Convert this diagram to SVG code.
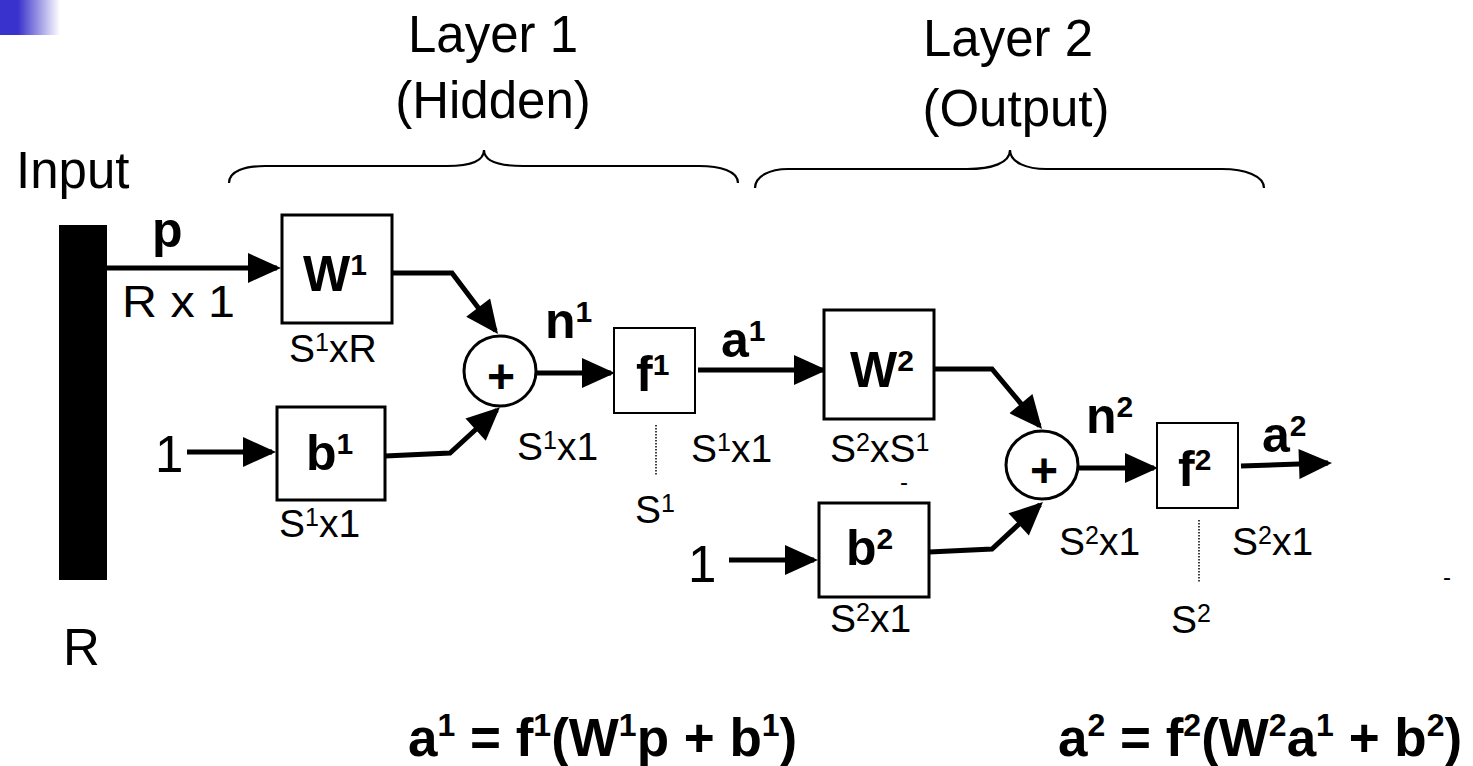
<svg xmlns="http://www.w3.org/2000/svg" width="1473" height="766" viewBox="0 0 1473 766">
<style>
text{font-family:"Liberation Sans",Arial,sans-serif;fill:#000}
.big{font-size:51px}
.lab{font-size:39px}
.lab .s{font-size:25px}
.b{font-weight:bold;font-size:50px}
.b .s{font-size:30px}
.eq{font-weight:bold;font-size:53px}
.eq .s{font-size:32px}
.box{fill:#fff;stroke:#000;stroke-width:3}
.fbox{fill:#fff;stroke:#000;stroke-width:2}
.sum{fill:#fff;stroke:#000;stroke-width:3}
.con path{fill:none;stroke:#000;stroke-width:5;stroke-linejoin:miter;marker-end:url(#ah)}
.brace{fill:none;stroke:#000;stroke-width:2.2}
.dot{stroke:#000;stroke-width:1.5;stroke-dasharray:1.5 1.5}
</style>
<defs>
<linearGradient id="g" x1="0" y1="0" x2="1" y2="0">
<stop offset="0" stop-color="#3a32cc"/>
<stop offset="0.3" stop-color="#3a32cc"/>
<stop offset="1" stop-color="#fff"/>
</linearGradient>
<marker id="ah" markerUnits="userSpaceOnUse" markerWidth="34" markerHeight="30" viewBox="0 0 33 30" refX="29" refY="15" orient="auto">
<path d="M0,0 L33,15 L0,30 z" fill="#000"/>
</marker>
</defs>
<rect x="0" y="0" width="60" height="35" fill="url(#g)"/>

<g id="titles">
<text class="big" x="493" y="52" text-anchor="middle">Layer 1</text>
<text class="big" x="493" y="118" text-anchor="middle">(Hidden)</text>
<text class="big" x="1008" y="56" text-anchor="middle">Layer 2</text>
<text class="big" x="1016" y="126" text-anchor="middle">(Output)</text>
<path class="brace" d="M229,183 C229,171 245,166 265,166 L447,166 C470,166 484,161 484,150 C484,161 498,166 523,166 L699,166 C720,166 738,171 738,183"/>
<path class="brace" d="M755,188 C755,176 770,169 788,169 L967,169 C992,169 1010,163 1010,150 C1010,163 1028,169 1046,169 L1222,169 C1245,169 1264,176 1264,188"/>
</g>

<g id="input">
<text class="big" x="16" y="188">Input</text>
<rect x="59" y="225" width="48" height="355" fill="#000"/>
<text class="big" x="63" y="665">R</text>
</g>

<g id="connectors" class="con">
<path d="M107,268 H277"/>
<path d="M392,273 H452 L495.6,330.8"/>
<path d="M385,456 L450,453 L497,410"/>
<path d="M187,452 H272"/>
<path d="M536,373 H611"/>
<path d="M698,370 H823"/>
<path d="M934,369 L992,369 L1039.5,425.9"/>
<path d="M729,560 H814"/>
<path d="M929,552 L992,549 L1040,504.7"/>
<path d="M1079,468 H1154"/>
<path d="M1241,466 L1328,463.1"/>
</g>

<g id="labels-p">
<text class="b" x="152" y="247">p</text>
<text transform="translate(122,317) scale(1.1,1)" x="0" y="0" style="font-size:44px">R x 1</text>
</g>

<g id="W1">
<rect class="box" x="282" y="215" width="110" height="108"/>
<text class="b" x="303" y="291">W<tspan class="s" dy="-16">1</tspan></text>
<text class="lab" x="289" y="362">S<tspan class="s" dy="-11">1</tspan><tspan dy="11">xR</tspan></text>
</g>

<g id="b1">
<rect class="box" x="277" y="407" width="108" height="93"/>
<text class="b" x="306" y="470">b<tspan class="s" dy="-16">1</tspan></text>
<text class="lab" x="279" y="537">S<tspan class="s" dy="-11">1</tspan><tspan dy="11">x1</tspan></text>
<text class="big" x="155" y="472">1</text>
</g>

<g id="sum1">
<ellipse class="sum" cx="500" cy="371" rx="36" ry="35"/>
<text class="b" x="501" y="393" text-anchor="middle" style="font-size:48px">+</text>
<text class="b" x="545" y="338">n<tspan class="s" dy="-16">1</tspan></text>
<text class="lab" x="517" y="460">S<tspan class="s" dy="-11">1</tspan><tspan dy="11">x1</tspan></text>
</g>

<g id="f1">
<rect class="fbox" x="614" y="328" width="81" height="85"/>
<text class="b" x="636" y="391">f<tspan class="s" dy="-16">1</tspan></text>
<line class="dot" x1="656" y1="425" x2="656" y2="476"/>
<text class="lab" x="635" y="523">S<tspan class="s" dy="-11">1</tspan></text>
<text class="b" x="721" y="357">a<tspan class="s" dy="-16">1</tspan></text>
<text class="lab" x="691" y="462">S<tspan class="s" dy="-11">1</tspan><tspan dy="11">x1</tspan></text>
</g>

<g id="W2">
<rect class="box" x="824" y="310" width="110" height="109"/>
<text class="b" x="850" y="387">W<tspan class="s" dy="-16">2</tspan></text>
<text class="lab" x="830" y="462">S<tspan class="s" dy="-11">2</tspan><tspan dy="11">xS</tspan><tspan class="s" dy="-11">1</tspan></text>
<text x="900" y="490" style="font-size:24px">-</text>
</g>

<g id="b2">
<rect class="box" x="819" y="503" width="110" height="94"/>
<text class="b" x="846" y="565">b<tspan class="s" dy="-16">2</tspan></text>
<text class="lab" x="830" y="632">S<tspan class="s" dy="-11">2</tspan><tspan dy="11">x1</tspan></text>
<text class="big" x="688" y="582">1</text>
</g>

<g id="sum2">
<ellipse class="sum" cx="1042" cy="465" rx="36" ry="34"/>
<text class="b" x="1044" y="487" text-anchor="middle" style="font-size:48px">+</text>
<text class="b" x="1086" y="433">n<tspan class="s" dy="-16">2</tspan></text>
<text class="lab" x="1059" y="555">S<tspan class="s" dy="-11">2</tspan><tspan dy="11">x1</tspan></text>
</g>

<g id="f2">
<rect class="fbox" x="1157" y="423" width="81" height="85"/>
<text class="b" x="1178" y="486">f<tspan class="s" dy="-16">2</tspan></text>
<line class="dot" x1="1199" y1="520" x2="1199" y2="583"/>
<text class="lab" x="1171" y="633">S<tspan class="s" dy="-11">2</tspan></text>
<text class="b" x="1262" y="452">a<tspan class="s" dy="-16">2</tspan></text>
<text class="lab" x="1232" y="555">S<tspan class="s" dy="-11">2</tspan><tspan dy="11">x1</tspan></text>
<text x="1443" y="585" style="font-size:24px">-</text>
</g>

<g id="equations">
<text class="eq" x="408" y="756">a<tspan class="s" dy="-20">1</tspan><tspan dy="20"> = f</tspan><tspan class="s" dy="-20">1</tspan><tspan dy="20">(W</tspan><tspan class="s" dy="-20">1</tspan><tspan dy="20">p + b</tspan><tspan class="s" dy="-20">1</tspan><tspan dy="20">)</tspan></text>
<text class="eq" x="1058" y="756">a<tspan class="s" dy="-20">2</tspan><tspan dy="20"> = f</tspan><tspan class="s" dy="-20">2</tspan><tspan dy="20">(W</tspan><tspan class="s" dy="-20">2</tspan><tspan dy="20">a</tspan><tspan class="s" dy="-20">1</tspan><tspan dy="20"> + b</tspan><tspan class="s" dy="-20">2</tspan><tspan dy="20">)</tspan></text>
</g>
</svg>
